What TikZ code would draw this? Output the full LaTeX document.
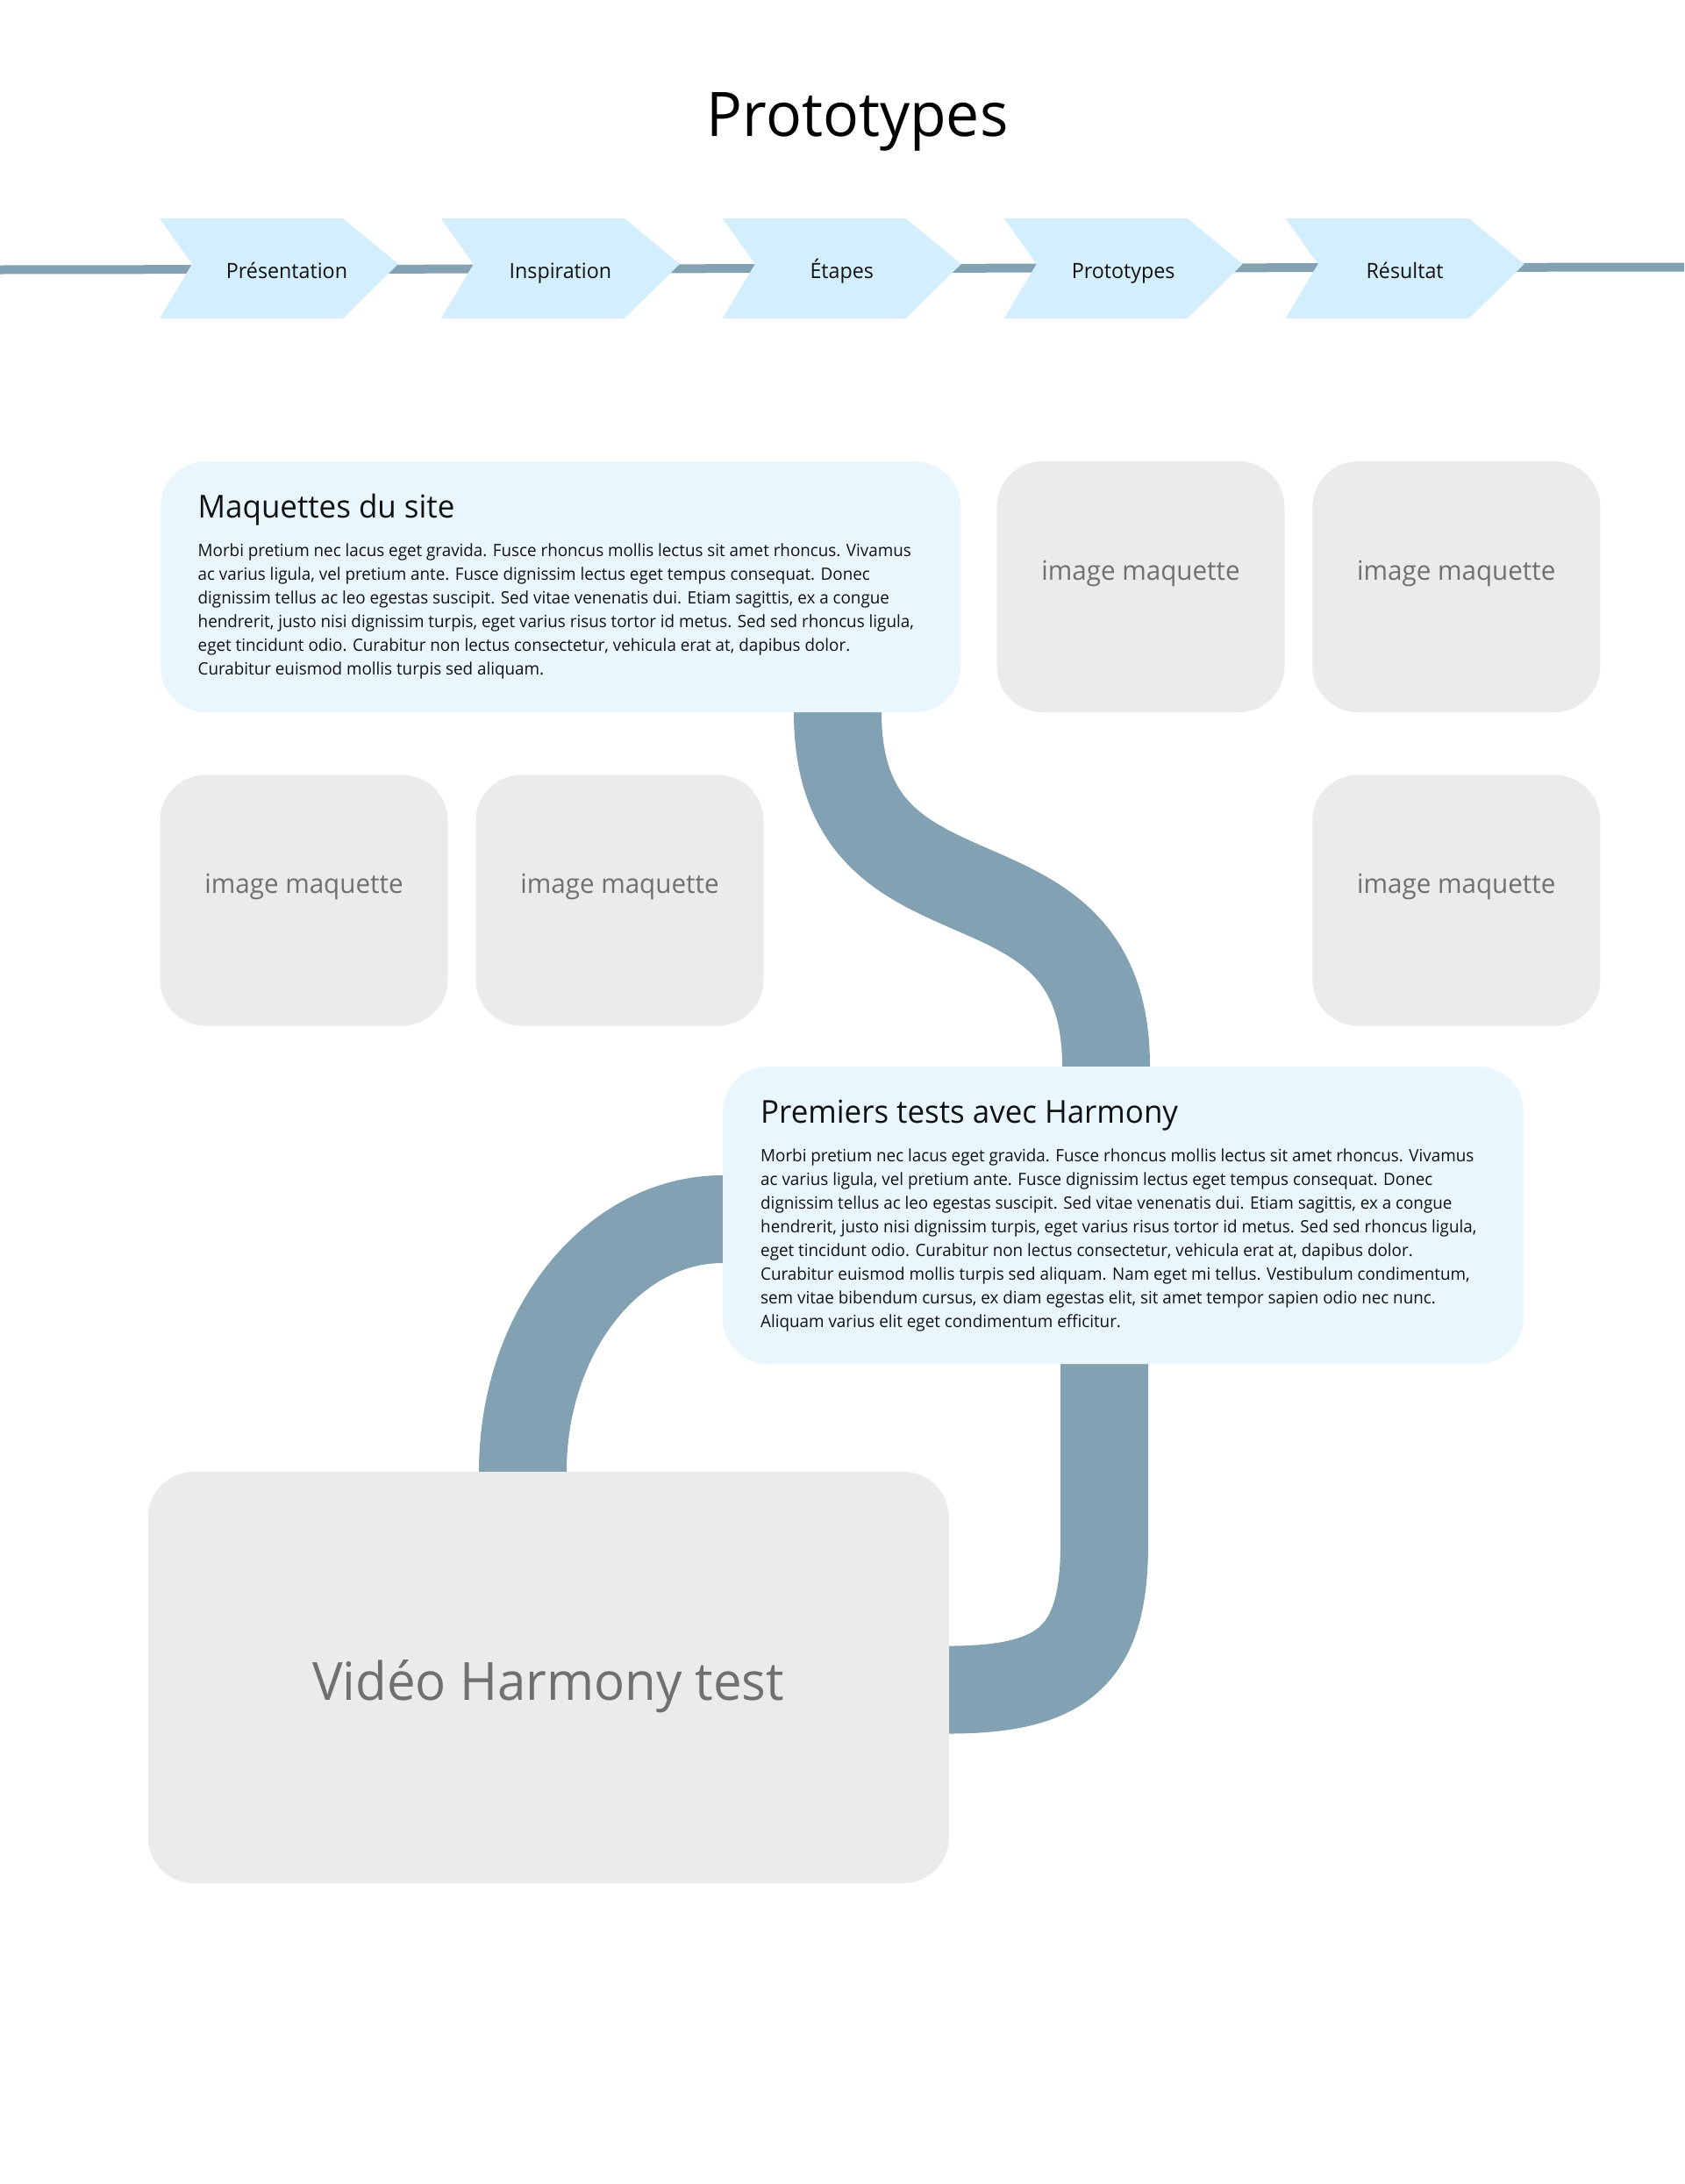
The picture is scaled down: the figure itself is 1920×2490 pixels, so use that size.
\documentclass[tikz,border=0pt]{standalone}
\usepackage{fontspec}
\setmainfont{Open Sans}[FakeStretch=0.97]
\usetikzlibrary{calc}
\pgfdeclarelayer{background}
\pgfsetlayers{background,main}
\definecolor{connc}{HTML}{82A1B3}
\definecolor{chevc}{HTML}{D3EEFC}
\definecolor{boxc}{HTML}{EAF6FE}
\definecolor{grayc}{HTML}{EBEBEB}
\definecolor{graytxt}{HTML}{707070}
\definecolor{txtc}{HTML}{111111}
\newcommand{\bodyfnt}{\fontsize{19.4}{27.1}\selectfont}
\begin{document}
\begin{tikzpicture}[x=1pt,y=-1pt,
  connector/.style={draw=connc, line width=100pt, line cap=butt},
  timeline/.style={draw=connc, line width=10pt},
  chevron/.style={fill=chevc},
  chevlabel/.style={anchor=base, inner sep=0pt, text=txtc, font=\fontsize{24}{28}\selectfont},
  textbox/.style={fill=boxc, rounded corners=52pt, inner sep=0pt, minimum width=912pt},
  imgbox/.style={fill=grayc, rounded corners=52pt, inner sep=0pt, minimum width=328pt, minimum height=286pt,
    text=graytxt, font=\fontsize{30.5}{36}\selectfont, text height=22pt, text depth=38pt},
  videobox/.style={fill=grayc, rounded corners=52pt, inner sep=0pt, minimum width=913pt, minimum height=469pt,
    text=graytxt, font=\fontsize{60}{70}\selectfont, text height=60pt, text depth=9pt},
  boxtitle/.style={anchor=base west, inner sep=0pt, text=txtc, font=\fontsize{36}{42}\selectfont},
  boxbody/.style={anchor=base west, inner sep=0pt, text=txtc, font=\bodyfnt}
]
\useasboundingbox (0,0) rectangle (1920,2490);
\begin{pgfonlayer}{background}
  \fill[white] (0,0) rectangle (1920,2490);
\end{pgfonlayer}

% title
\node[anchor=base, inner sep=0pt, text=black, font=\fontsize{70}{80}\selectfont] (title) at (977.7,155.7) {Prototypes};

% timeline
\coordinate (tlstart) at (0,307.5);
\coordinate (tlend) at (1920,304.5);
\begin{pgfonlayer}{background}
  \draw[timeline] (tlstart) -- (tlend);
\end{pgfonlayer}

% chevrons
\foreach \i/\lab/\dx in {0/Présentation/145, 1/Inspiration/136, 2/Étapes/136, 3/Prototypes/136, 4/Résultat/136}{
  \pgfmathsetmacro{\L}{182+320.9*\i}
  \fill[chevron] (\L,249) -- ++(209,0) -- ++(63,52) -- ++(-63,62) -- ++(-209,0) -- ++(37,-62) -- cycle;
  \node[chevlabel] (chev\i) at (\L+\dx,317) {\lab};
}

% boxes
\node[textbox, minimum height=286pt] (maq) at (639,669) {};
\node[boxtitle] (maqtitle) at (225.5,590) {Maquettes du site};
\node[boxbody] (maqbody) at (225.5,634) {\parbox[t]{900pt}{\raggedright\bodyfnt
Morbi pretium nec lacus eget gravida. Fusce rhoncus mollis lectus sit amet rhoncus. Vivamus\\
ac varius ligula, vel pretium ante. Fusce dignissim lectus eget tempus consequat. Donec\\
dignissim tellus ac leo egestas suscipit. Sed vitae venenatis dui. Etiam sagittis, ex a congue\\
hendrerit, justo nisi dignissim turpis, eget varius risus tortor id metus. Sed sed rhoncus ligula,\\
eget tincidunt odio. Curabitur non lectus consectetur, vehicula erat at, dapibus dolor.\\
Curabitur euismod mollis turpis sed aliquam.}};

\node[imgbox] (img1) at (1300.5,669) {image maquette};
\node[imgbox] (img2) at (1660.3,669) {image maquette};
\node[imgbox] (img3) at (346.5,1026.5) {image maquette};
\node[imgbox] (img4) at (706.5,1026.5) {image maquette};
\node[imgbox] (img5) at (1660.3,1026.5) {image maquette};

\node[textbox, minimum width=913pt, minimum height=339pt] (tests) at (1280.5,1385.5) {};
\node[boxtitle] (teststitle) at (867,1280) {Premiers tests avec Harmony};
\node[boxbody] (testsbody) at (867,1324) {\parbox[t]{900pt}{\raggedright\bodyfnt
Morbi pretium nec lacus eget gravida. Fusce rhoncus mollis lectus sit amet rhoncus. Vivamus\\
ac varius ligula, vel pretium ante. Fusce dignissim lectus eget tempus consequat. Donec\\
dignissim tellus ac leo egestas suscipit. Sed vitae venenatis dui. Etiam sagittis, ex a congue\\
hendrerit, justo nisi dignissim turpis, eget varius risus tortor id metus. Sed sed rhoncus ligula,\\
eget tincidunt odio. Curabitur non lectus consectetur, vehicula erat at, dapibus dolor.\\
Curabitur euismod mollis turpis sed aliquam. Nam eget mi tellus. Vestibulum condimentum,\\
sem vitae bibendum cursus, ex diam egestas elit, sit amet tempor sapien odio nec nunc.\\
Aliquam varius elit eget condimentum efficitur.}};

\node[videobox] (video) at (625.3,1912.5) {Vidéo Harmony test};

% connectors
\begin{pgfonlayer}{background}
  \draw[connector] ($(maq.south)+(316,-20)$) -- ($(maq.south)+(316,0)$)
     .. controls +(0,270) and +(0,-270) .. ($(tests.north)+(-19.5,0)$) -- +(0,20);
  \draw[connector] ($(tests.west)+(20,4.5)$) -- ($(tests.west)+(0,4.5)$)
     .. controls +(-126,0) and +(0,-159) .. ($(video.north)+(-29.3,0)$) -- +(0,20);
  \draw[connector] ($(tests.south)+(-21.5,-20)$) -- ($(tests.south)+(-21.5,205)$)
     .. controls +(0,125) and +(133,0) .. ($(video.east)+(0,14)$) -- +(-20,0);
\end{pgfonlayer}
\end{tikzpicture}
\end{document}
